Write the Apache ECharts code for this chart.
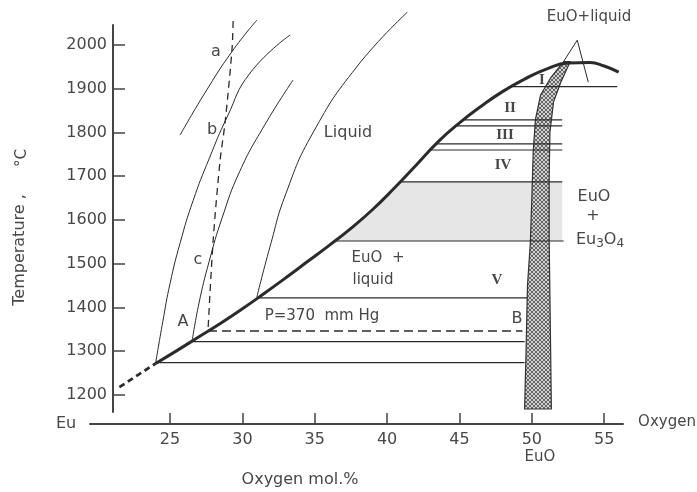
<!DOCTYPE html>
<html>
<head>
<meta charset="utf-8">
<script src="https://cdn.jsdelivr.net/npm/echarts@6/dist/echarts.min.js"></script>
<style>
  html, body { margin: 0; padding: 0; background: #fff; }
  #chart { width: 697px; height: 492px; }
</style>
</head>
<body>
<div id="chart"></div>
<script>
// ---- data (x = oxygen mol.%, y = temperature in deg C) ----
var xTicks = [25, 30, 35, 40, 45, 50, 55];
var yTicks = [1200, 1300, 1400, 1500, 1600, 1700, 1800, 1900, 2000];

var liquidusDashed = [[21.5, 1218], [24.0, 1272]];
var liquidus = [[24.0, 1272], [25.5, 1302], [27.0, 1333], [28.5, 1364], [30.0, 1397], [31.5, 1432],
  [33.0, 1468], [34.5, 1505], [36.0, 1542], [37.5, 1581], [39.0, 1624], [40.5, 1673], [42.0, 1725],
  [43.5, 1778], [45.0, 1822], [46.5, 1860], [48.0, 1894], [49.5, 1922], [51.0, 1945], [52.5, 1959],
  [54.0, 1960], [55.0, 1952], [56.0, 1938]];

var isobarA = [[25.69, 1794], [27.4, 1890], [29.28, 1985], [31.0, 2057]];
var isobarB = [[24.0, 1272], [24.5, 1368], [25.0, 1455], [25.7, 1548], [26.6, 1645], [27.7, 1740],
  [28.94, 1835], [30.53, 1936], [33.3, 2023]];
var isobarC = [[26.52, 1322], [27.0, 1410], [27.7, 1505], [28.6, 1605], [29.8, 1710], [31.5, 1815], [33.5, 1920]];
var liquidCurve = [[31.0, 1424], [31.9, 1538], [33.0, 1660], [34.87, 1799], [37.9, 1950], [41.4, 2075]];
var pathABC = [[29.36, 2055], [29.28, 1989], [28.8, 1822], [28.46, 1737], [27.98, 1554], [27.62, 1346]];

// [temperature, x start, x end]
var tieLines = [[1905, 48.4, 55.9], [1829, 45.2, 52.1], [1815, 44.8, 52.1], [1774, 43.4, 52.1],
  [1760, 43.0, 52.1], [1687, 40.93, 52.1], [1552, 36.38, 52.2], [1422, 31.07, 49.7],
  [1322, 26.47, 49.5], [1274, 24.1, 49.5]];
var pressureLine = [[27.62, 1346], [49.35, 1346]];

var euoLeft = [[52.2, 1962], [51.3, 1925], [50.6, 1885], [50.25, 1830], [50.1, 1760], [50.0, 1650],
  [49.9, 1550], [49.7, 1450], [49.6, 1300], [49.5, 1168]];
var euoRight = [[52.65, 1962], [52.0, 1915], [51.5, 1870], [51.25, 1800], [51.2, 1700], [51.2, 1550],
  [51.3, 1300], [51.35, 1168]];
var shadedZone = [[36.38, 1552], [37.5, 1581], [39.0, 1624], [40.5, 1673], [40.93, 1687], [52.1, 1687], [52.1, 1552]];
var pointer = [[52.17, 1961], [53.14, 2011], [53.9, 1915]];

var ink = '#2b2b2b';
var textInk = '#474747';

// crosshatch texture for the EuO band
var pc = document.createElement('canvas');
pc.width = 4; pc.height = 4;
var g = pc.getContext('2d');
g.fillStyle = '#d0d0d0'; g.fillRect(0, 0, 4, 4);
g.fillStyle = '#666';
[[0, 0], [1, 1], [2, 2], [3, 3], [3, 0], [2, 1], [1, 2], [0, 3]].forEach(function (p) { g.fillRect(p[0], p[1], 1, 1); });

function polygon(points, style, z) {
  return {
    type: 'custom', xAxisIndex: 0, yAxisIndex: 0, silent: true, z: z,
    data: [[points[0][0], points[0][1]]],
    renderItem: function (params, api) {
      return { type: 'polygon', shape: { points: points.map(function (p) { return api.coord(p); }) }, style: style };
    }
  };
}

function line(data, width, type, smooth) {
  return {
    type: 'line', data: data, xAxisIndex: 0, yAxisIndex: 0, symbol: 'none', smooth: smooth || false,
    clip: false, silent: true, z: 5,
    lineStyle: { color: ink, width: width, type: type || 'solid' }
  };
}

var series = [
  polygon(shadedZone, { fill: '#e6e6e6' }, 1),
  polygon(euoLeft.concat(euoRight.slice().reverse()), { fill: { image: pc, repeat: 'repeat' }, stroke: '#333', lineWidth: 1.2 }, 3),
  line(liquidusDashed, 2.8, [6, 4]),
  line(liquidus, 3, 'solid', 0.5),
  line(isobarA, 1, 'solid', 0.5),
  line(isobarB, 1, 'solid', 0.5),
  line(isobarC, 1, 'solid', 0.5),
  line(liquidCurve, 1, 'solid', 0.5),
  line(pathABC, 1.3, [7, 5], 0.3),
  line(pressureLine, 1.5, [9, 5]),
  line(pointer, 1, 'solid')
];
tieLines.forEach(function (t) {
  series.push(line([[t[1], t[0]], [t[2], t[0]]], 1.2));
});

function label(text, x, y, font, extra) {
  var el = {
    type: 'text', x: x, y: y, silent: true, z: 10,
    style: { text: text, font: font || '16px "DejaVu Sans"', fill: textInk, align: 'center', verticalAlign: 'middle' }
  };
  if (extra) { for (var k in extra) el[k] = extra[k]; }
  return el;
}
var roman = 'bold 15px "Liberation Serif"';

var chart = echarts.init(document.getElementById('chart'));
chart.setOption({
  animation: false,
  backgroundColor: '#fff',
  grid: [
    { left: 90, right: 74, top: 15, bottom: 68 },
    { left: 113, top: 25, bottom: 80, width: 10 }
  ],
  xAxis: [
    {
      gridIndex: 0, type: 'value', min: 19.468, max: 56.30,
      axisLine: { onZero: false, lineStyle: { color: '#444', width: 2 } },
      axisTick: { inside: true, length: 11, customValues: xTicks, lineStyle: { color: '#444', width: 1.5 } },
      axisLabel: { customValues: xTicks, margin: 8, fontSize: 16, fontFamily: 'DejaVu Sans', color: textInk },
      splitLine: { show: false }
    },
    { gridIndex: 1, type: 'value', min: 0, max: 1, show: false }
  ],
  yAxis: [
    { gridIndex: 0, type: 'value', min: 1133.7, max: 2068.6, show: false },
    {
      gridIndex: 1, type: 'value', min: 1161.1, max: 2045.7, position: 'left',
      axisLine: { show: true, onZero: false, lineStyle: { color: '#444', width: 2 } },
      axisTick: { show: true, inside: true, length: 12, customValues: yTicks, lineStyle: { color: '#444', width: 1.5 } },
      axisLabel: {
        customValues: yTicks, margin: 6, fontSize: 16, fontFamily: 'DejaVu Sans', color: textInk,
        formatter: function (v) { return String(v); }
      },
      splitLine: { show: false }
    }
  ],
  graphic: [
    label('Eu', 66, 424),
    label('Oxygen', 667, 422, '15px "DejaVu Sans"'),
    label('EuO', 540, 457, '15px "DejaVu Sans"'),
    label('Oxygen mol.%', 300, 480, '16px "DejaVu Sans"'),
    label('Temperature ,', 20, 250, '16px "DejaVu Sans"', { rotation: Math.PI / 2 }),
    label('\u00b0C', 22, 158, '15px "DejaVu Sans"', { rotation: Math.PI / 2 }),
    label('Liquid', 348, 133),
    label('EuO  +', 378, 258, '15px "DejaVu Sans"'),
    label('liquid', 373, 280, '15px "DejaVu Sans"'),
    label('P=370  mm Hg', 322, 316, '15px "DejaVu Sans"'),
    label('A', 183, 322),
    label('B', 517, 319),
    label('a', 216, 52),
    label('b', 212, 130),
    label('c', 198, 260),
    label('I', 542, 80, roman),
    label('II', 510, 108, roman),
    label('III', 505, 135, roman),
    label('IV', 503, 165, roman),
    label('V', 497, 280, roman),
    label('EuO+liquid', 589, 17, '15px "DejaVu Sans"'),
    label('EuO', 594, 197, '16px "DejaVu Sans"'),
    label('+', 593, 216, '16px "DejaVu Sans"'),
    {
      type: 'text', x: 600, y: 240, silent: true, z: 10,
      style: {
        text: 'Eu{s|3}O{s|4}', font: '16px "DejaVu Sans"', fill: textInk, align: 'center', verticalAlign: 'middle',
        rich: { s: { font: '12px "DejaVu Sans"', fill: textInk, padding: [8, 0, 0, 0] } }
      }
    }
  ],
  series: series
});
</script>
</body>
</html>
